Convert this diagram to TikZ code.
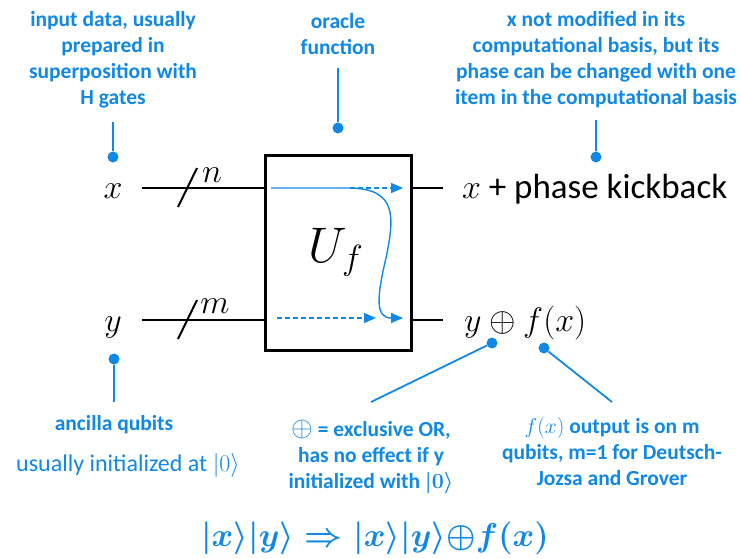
\RequirePackage{fix-cm}
\documentclass[tikz,border=0pt]{standalone}
\usepackage{fontspec}
\setmainfont{Carlito}
\usetikzlibrary{arrows.meta}
\definecolor{noteblue}{RGB}{16,136,228}
\tikzset{
  wire/.style={line width=2.6pt},
  note/.style={text=noteblue, font=\bfseries\fontsize{21.5}{26}\selectfont, align=center, inner sep=0pt},
  pin/.style={draw=noteblue, line width=1.8pt},
  pindot/.style={circle, fill=noteblue, inner sep=0pt, minimum size=11pt},
  flow/.style={noteblue, line width=1.4pt, -{Triangle[length=12pt,width=10pt]}},
  big/.style={font=\fontsize{34}{34}\selectfont},
}
\begin{document}
\begin{tikzpicture}[x=1pt, y=-1pt]
  \useasboundingbox (0,0) rectangle (741,558);

  % oracle box
  \node[draw, line width=3pt, minimum width=146pt, minimum height=195pt, inner sep=0pt] (U) at (338,253) {};
  \node[font=\fontsize{50}{50}\selectfont, anchor=base] (Uf) at (336,262) {$U_f$};

  % inputs and outputs
  \node[big, anchor=base] (xl) at (113,198) {$x$};
  \node[big, anchor=base] (yl) at (113,331) {$y$};
  \node[big, anchor=base west, inner sep=0pt] (xr) at (462,198) {$x$ {\fontsize{35}{35}\selectfont + phase kickback}};
  \node[big, anchor=base west, inner sep=0pt] (yr) at (464,331) {$y\oplus f(x)$};
  \coordinate (xin) at (142,188);
  \coordinate (yin) at (142,320);
  \coordinate (xout) at (443,188);
  \coordinate (yout) at (443,320);
  \draw[wire] (xin) -- (xin -| U.west);
  \draw[wire] (yin) -- (yin -| U.west);
  \draw[wire] (xin -| U.east) -- (xout);
  \draw[wire] (yin -| U.east) -- (yout);

  % register sizes
  \draw[wire, line width=2pt] (178,207) -- (197,168);
  \draw[wire, line width=2pt] (178,339) -- (197,300);
  \node[big, anchor=base] (n) at (212,182) {$n$};
  \node[big, anchor=base] (m) at (215,313) {$m$};

  % flow inside U_f
  \draw[flow, dash pattern=on 5pt off 3pt] (350,188) -- (403,188);
  \draw[flow, dash pattern=on 5pt off 3pt] (277,318) -- (376,318);
  \draw[flow] (271,188) -- (350,188) .. controls (396,189) and (395,215) .. (386,258)
              .. controls (376,300) and (376,318) .. (403,318);

  % callouts
  \node[note] (input) at (113,60) {input data, usually\\prepared in\\superposition with\\H gates};
  \node[pindot] (d1) at (113,157) {};
  \coordinate (p1) at (113,122);
  \draw[pin] (d1) -- (p1);

  \node[note] (oracle) at (338,34) {oracle\\function};
  \node[pindot] (d2) at (338,128) {};
  \coordinate (p2) at (338,68);
  \draw[pin] (d2) -- (p2);

  \node[note] (phase) at (596,60) {x not modified in its\\computational basis, but its\\phase can be changed with one\\item in the computational basis};
  \node[pindot] (d3) at (596,157) {};
  \coordinate (p3) at (596,120);
  \draw[pin] (d3) -- (p3);

  \node[note] (ancilla) at (114,425) {ancilla qubits};
  \node[note, font=\fontsize{24}{26}\selectfont] (init) at (128,465) {usually initialized at $|0\rangle$};
  \node[pindot] (d4) at (114,359) {};
  \coordinate (p4) at (114,402);
  \draw[pin] (d4) -- (p4);

  \node[note] (xor) at (371,457) {{\fontsize{28}{26}\selectfont$\oplus$} = exclusive OR,\\has no effect if y\\initialized with {\boldmath$|0\rangle$}};
  \node[pindot] (d5) at (492,343) {};
  \coordinate (p5) at (371,402);
  \draw[pin] (d5) -- (p5);

  \node[note] (fx) at (612,452) {$f(x)$ output is on m\\qubits, m=1 for Deutsch-\\Jozsa and Grover};
  \node[pindot] (d6) at (544,348) {};
  \coordinate (p6) at (612,402);
  \draw[pin] (d6) -- (p6);

  % summary
  \node[text=noteblue, font=\boldmath\fontsize{33}{33}\selectfont] (eq) at (375,538) {$|x\rangle|y\rangle \Rightarrow |x\rangle|y\rangle{\oplus}f(x)$};
\end{tikzpicture}
\end{document}
